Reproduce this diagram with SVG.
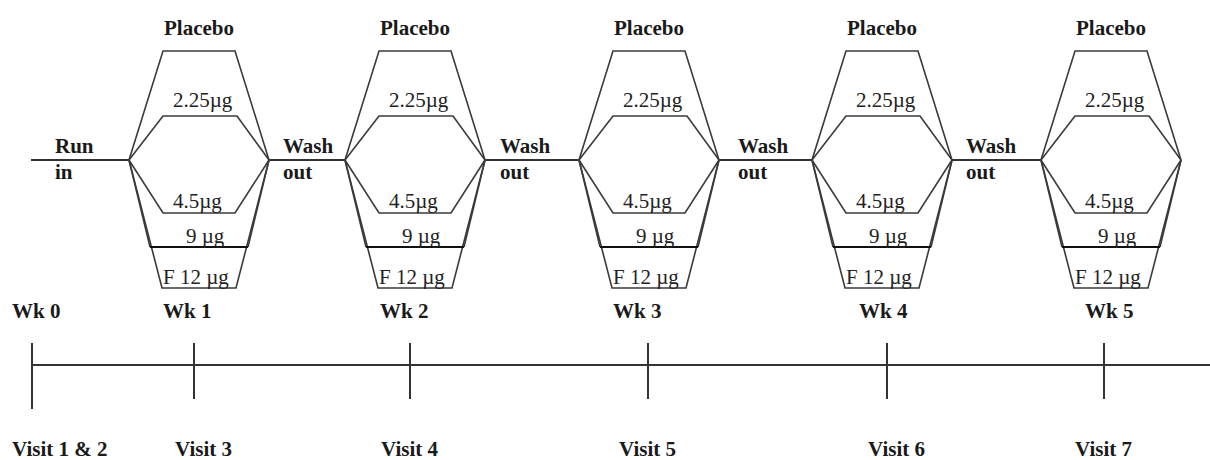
<svg xmlns="http://www.w3.org/2000/svg" xmlns:xlink="http://www.w3.org/1999/xlink" width="1210" height="460" viewBox="0 0 1210 460">
<style>
.arm{fill:none;stroke:#3a3a3a;stroke-width:1.6;stroke-linejoin:miter}
.bar{fill:none;stroke:#111;stroke-width:2.2}
.conn{fill:none;stroke:#333;stroke-width:2}
.tl{fill:none;stroke:#333;stroke-width:2}
.lbl{font-family:"Liberation Serif","Times New Roman",serif;font-size:21px;font-weight:bold;fill:#1a1a1a}
.dose{font-family:"Liberation Serif","Times New Roman",serif;font-size:21px;fill:#222}
.ctr{text-anchor:middle}
</style>
<defs>
<g id="arms">
<path class="arm" d="M0,160 L34,51 L106,51 L140,160"/>
<path class="arm" d="M0,160 L34,116 L108,116 L140,160"/>
<path class="arm" d="M0,160 L34,213 L106,213 L140,160"/>
<path class="arm" d="M0,160 L21,247 M140,160 L119,247"/>
<path class="arm" d="M0,160 L33,288 L107,288 L140,160"/>
<path class="bar" d="M21,247 L119,247"/>
</g>
</defs>
<rect width="1210" height="460" fill="#fff"/>

<g id="connectors">
<line class="conn" x1="31" y1="160" x2="129" y2="160"/>
<line class="conn" x1="269" y1="160" x2="345" y2="160"/>
<line class="conn" x1="485" y1="160" x2="579" y2="160"/>
<line class="conn" x1="719" y1="160" x2="812" y2="160"/>
<line class="conn" x1="952" y1="160" x2="1041" y2="160"/>
</g>

<g id="run-in">
<text class="lbl" x="55" y="153">Run</text>
<text class="lbl" x="55" y="179">in</text>
</g>
<g id="washout-1">
<text class="lbl" x="283" y="153">Wash</text>
<text class="lbl" x="283" y="179">out</text>
</g>
<g id="washout-2">
<text class="lbl" x="500" y="153">Wash</text>
<text class="lbl" x="500" y="179">out</text>
</g>
<g id="washout-3">
<text class="lbl" x="738" y="153">Wash</text>
<text class="lbl" x="738" y="179">out</text>
</g>
<g id="washout-4">
<text class="lbl" x="966" y="153">Wash</text>
<text class="lbl" x="966" y="179">out</text>
</g>

<g id="period-1" transform="translate(129,0)">
<use xlink:href="#arms" href="#arms"/>
<text class="lbl ctr" x="70" y="35">Placebo</text>
<text class="dose" x="44" y="107">2.25µg</text>
<text class="dose" x="44" y="208">4.5µg</text>
<text class="dose" x="57" y="243">9 µg</text>
<text class="dose" x="34" y="284">F 12 µg</text>
</g>
<g id="period-2" transform="translate(345,0)">
<use xlink:href="#arms" href="#arms"/>
<text class="lbl ctr" x="70" y="35">Placebo</text>
<text class="dose" x="44" y="107">2.25µg</text>
<text class="dose" x="44" y="208">4.5µg</text>
<text class="dose" x="57" y="243">9 µg</text>
<text class="dose" x="34" y="284">F 12 µg</text>
</g>
<g id="period-3" transform="translate(579,0)">
<use xlink:href="#arms" href="#arms"/>
<text class="lbl ctr" x="70" y="35">Placebo</text>
<text class="dose" x="44" y="107">2.25µg</text>
<text class="dose" x="44" y="208">4.5µg</text>
<text class="dose" x="57" y="243">9 µg</text>
<text class="dose" x="34" y="284">F 12 µg</text>
</g>
<g id="period-4" transform="translate(812,0)">
<use xlink:href="#arms" href="#arms"/>
<text class="lbl ctr" x="70" y="35">Placebo</text>
<text class="dose" x="44" y="107">2.25µg</text>
<text class="dose" x="44" y="208">4.5µg</text>
<text class="dose" x="57" y="243">9 µg</text>
<text class="dose" x="34" y="284">F 12 µg</text>
</g>
<g id="period-5" transform="translate(1041,0)">
<use xlink:href="#arms" href="#arms"/>
<text class="lbl ctr" x="70" y="35">Placebo</text>
<text class="dose" x="44" y="107">2.25µg</text>
<text class="dose" x="44" y="208">4.5µg</text>
<text class="dose" x="57" y="243">9 µg</text>
<text class="dose" x="34" y="284">F 12 µg</text>
</g>

<g id="timeline">
<line class="tl" x1="32" y1="365" x2="1210" y2="365"/>
<line class="tl" x1="32" y1="343" x2="32" y2="409"/>
<line class="tl" x1="194" y1="343" x2="194" y2="399"/>
<line class="tl" x1="410" y1="343" x2="410" y2="399"/>
<line class="tl" x1="648" y1="343" x2="648" y2="399"/>
<line class="tl" x1="887" y1="343" x2="887" y2="399"/>
<line class="tl" x1="1104" y1="343" x2="1104" y2="399"/>
</g>

<g id="weeks">
<text class="lbl" x="12" y="318">Wk 0</text>
<text class="lbl" x="163" y="318">Wk 1</text>
<text class="lbl" x="380" y="318">Wk 2</text>
<text class="lbl" x="613" y="318">Wk 3</text>
<text class="lbl" x="859" y="318">Wk 4</text>
<text class="lbl" x="1085" y="318">Wk 5</text>
</g>

<g id="visits">
<text class="lbl" x="12" y="456">Visit 1 &amp; 2</text>
<text class="lbl" x="175" y="456">Visit 3</text>
<text class="lbl" x="381" y="456">Visit 4</text>
<text class="lbl" x="619" y="456">Visit 5</text>
<text class="lbl" x="868" y="456">Visit 6</text>
<text class="lbl" x="1075" y="456">Visit 7</text>
</g>
</svg>
